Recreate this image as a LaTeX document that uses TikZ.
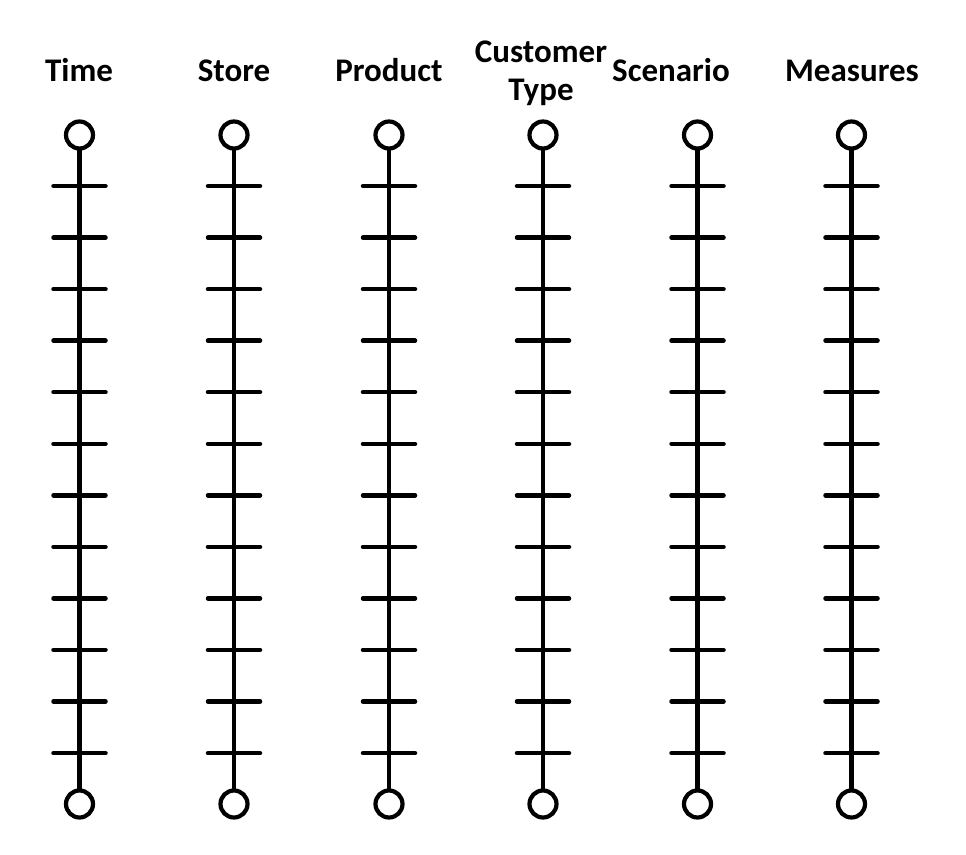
\documentclass[tikz,border=0pt]{standalone}
\usepackage{fontspec}
\setmainfont{Carlito}
\begin{document}
\begin{tikzpicture}[x=1pt,y=-1pt,
  axisline/.style={line width=4.5pt, line cap=round},
  endring/.style={circle, draw, line width=4.2pt, inner sep=0pt, minimum size=27pt},
  dimlabel/.style={font=\fontsize{33}{38}\selectfont\bfseries, inner sep=0pt, anchor=base, align=center}]
\useasboundingbox (0,0) rectangle (966,854);
\foreach \i/\x in {1/79.5,2/234,3/389,4/543,5/697.5,6/851.5}{
  \node[endring] (top\i) at (\x,135) {};
  \node[endring] (bot\i) at (\x,804) {};
  \draw[axisline] (top\i.south) -- (bot\i.north);
  \foreach \k in {0,...,11}{
    \draw[axisline] (\x-26,186+51.55*\k) -- (\x+26,186+51.55*\k);
  }
}
\node[dimlabel] (l1) at (79,81) {Time};
\node[dimlabel] (l2) at (234,81) {Store};
\node[dimlabel] (l3) at (389,81) {Product};
\node[dimlabel] (l4) at (541,100) {Customer\\Type};
\node[dimlabel] (l5) at (671,81) {Scenario};
\node[dimlabel] (l6) at (852,81) {Measures};
\end{tikzpicture}
\end{document}
